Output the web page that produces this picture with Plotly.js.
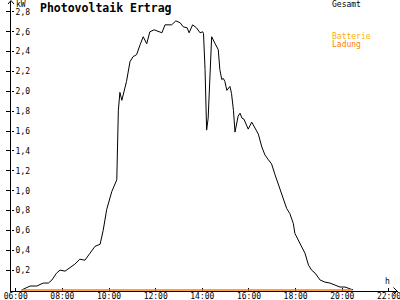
<!DOCTYPE html>
<html><head><meta charset="utf-8">
<script src="https://cdn.plot.ly/plotly-3.0.1.min.js"></script>
<style>html,body{margin:0;padding:0;background:#fff}#chart{width:400px;height:300px}</style>
</head><body><div id="chart"></div>
<script>
// Gesamt (total PV output, kW)
const gesamtTimes = ["06:15","06:37","06:54","07:11","07:24","07:33","07:45","07:54","08:07","08:20","08:32","08:45","08:58","09:11","09:24","09:37","09:45","09:54","10:07","10:20","10:24","10:28","10:33","10:45","10:54","11:02","11:11","11:20","11:28","11:37","11:45","11:56","12:07","12:16","12:24","12:41","12:52","13:03","13:11","13:21","13:26","13:35","13:45","13:54","14:01","14:03","14:07","14:11","14:15","14:18","14:24","14:33","14:41","14:45","14:50","14:54","14:58","15:03","15:11","15:15","15:20","15:24","15:32","15:37","15:42","15:47","15:58","16:07","16:15","16:24","16:33","16:41","16:50","16:58","17:07","17:15","17:20","17:28","17:37","17:45","17:54","17:58","18:07","18:16","18:24","18:33","18:41","18:50","18:58","19:03","19:15","19:28","19:41","19:54","20:07","20:20","20:28"];
const gesamtValues = [0.00,0.04,0.04,0.07,0.07,0.10,0.17,0.20,0.19,0.23,0.26,0.31,0.30,0.37,0.44,0.46,0.60,0.81,0.99,1.11,1.81,1.99,1.91,2.10,2.30,2.35,2.37,2.47,2.55,2.48,2.60,2.62,2.60,2.59,2.67,2.67,2.71,2.69,2.65,2.64,2.59,2.67,2.64,2.59,2.60,2.58,2.22,1.61,1.73,2.05,2.55,2.48,2.42,2.22,2.12,2.13,2.10,2.01,2.05,1.98,1.81,1.59,1.75,1.78,1.73,1.72,1.62,1.69,1.64,1.57,1.44,1.36,1.31,1.27,1.16,1.07,1.01,0.91,0.82,0.77,0.67,0.57,0.50,0.44,0.37,0.25,0.20,0.17,0.12,0.10,0.08,0.07,0.05,0.03,0.03,0.01,0.00];
// Ladung (battery charge, kW)
const ladungTimes = ["06:15","20:25"];
const ladungValues = [0, 0];
const yTickVals = [0.2,0.4,0.6,0.8,1.0,1.2,1.4,1.6,1.8,2.0,2.2,2.4,2.6,2.8];
const xTickLabels = ["06:00","08:00","10:00","12:00","14:00","16:00","18:00","20:00","22:00"];

const day = "2024-06-01 ";
const toDate = t => day + t;
const mono = "DejaVu Sans Mono";

const traces = [
  {x: ladungTimes.map(toDate), y: ladungValues, type: "scatter", mode: "lines", yaxis: "y2",
   line: {color: "#ff7f00", width: 1.5}, hoverinfo: "skip"},
  {x: gesamtTimes.map(toDate), y: gesamtValues, type: "scatter", mode: "lines",
   line: {color: "#000000", width: 1}, hoverinfo: "skip"}
];

const W = 387, H = 290, L = 11, T = 1;
const px = v => (v - L) / W;
const py = v => (T + H - v) / H;
const path = pts => "M" + pts.map(p => px(p[0]) + "," + py(p[1])).join(" L");

const xr = [day + "05:47:55", day + "22:23:13"];
const yr = [-0.01, 2.91];
const tickDates = xTickLabels.map(toDate);

const layout = {
  width: 400, height: 300,
  margin: {l: L, r: 2, t: T, b: 9, pad: 0},
  paper_bgcolor: "#fff", plot_bgcolor: "#fff",
  separators: ",.",
  showlegend: false,
  font: {family: mono, size: 8, color: "#000"},
  title: {text: "<b>Photovoltaik Ertrag</b>", font: {family: mono, size: 11.5, color: "#000"},
          x: 40/400, xanchor: "left", xref: "container", y: 1 - 7.5/300, yanchor: "middle", yref: "container"},
  xaxis: {type: "date", range: xr, showgrid: false, zeroline: false, showline: true,
          linecolor: "#000", linewidth: 1, ticks: "inside", ticklen: 3, tickcolor: "#000",
          tickvals: tickDates, ticktext: xTickLabels, tickfont: {family: mono, size: 8},
          ticklabelstandoff: -3, ticklabeloverflow: "allow", layer: "below traces", fixedrange: true},
  xaxis2: {type: "date", range: xr, overlaying: "x", anchor: "y", side: "bottom", showgrid: false, zeroline: false,
           showline: false, ticks: "outside", ticklen: 2, tickcolor: "#000", tickvals: tickDates,
           showticklabels: false, layer: "below traces"},
  yaxis: {range: yr, showgrid: false, zeroline: false, showline: true, linecolor: "#000", linewidth: 1,
          ticks: "outside", ticklen: 4, tickcolor: "#000", tickvals: yTickVals,
          showticklabels: false, layer: "below traces", fixedrange: true},
  yaxis2: {range: yr, overlaying: "y", anchor: "free", position: 0, side: "right", showgrid: false,
           zeroline: false, showline: false, ticks: "outside", ticklen: 2, tickcolor: "#000",
           tickvals: yTickVals, tickformat: ".1f", showticklabels: true, tickfont: {family: mono, size: 8},
           fixedrange: true},
  shapes: [
    {type: "path", xref: "paper", yref: "paper", path: path([[8,4],[11,0.5],[14,4]]), line: {color: "#000", width: 1}},
    {type: "path", xref: "paper", yref: "paper", path: path([[393.5,287.5],[397,291],[393.5,294.5]]), line: {color: "#000", width: 1}}
  ],
  annotations: [
    {text: "kW", xref: "paper", yref: "paper", x: px(14), y: py(4.5), xanchor: "left", yanchor: "middle", showarrow: false, font: {family: mono, size: 8}},
    {text: "h", xref: "paper", yref: "paper", x: px(387), y: py(281), xanchor: "center", yanchor: "middle", showarrow: false, font: {family: mono, size: 8}},
    {text: "Gesamt", xref: "paper", yref: "paper", x: px(330), y: py(4.5), xanchor: "left", yanchor: "middle", showarrow: false, font: {family: mono, size: 8, color: "#000"}},
    {text: "Batterie", xref: "paper", yref: "paper", x: px(330), y: py(36), xanchor: "left", yanchor: "middle", showarrow: false, font: {family: mono, size: 8, color: "#ffb000"}},
    {text: "Ladung", xref: "paper", yref: "paper", x: px(330), y: py(44.5), xanchor: "left", yanchor: "middle", showarrow: false, font: {family: mono, size: 8, color: "#ff7f00"}}
  ]
};

Plotly.newPlot("chart", traces, layout, {staticPlot: true, displayModeBar: false});
</script>
</body></html>
